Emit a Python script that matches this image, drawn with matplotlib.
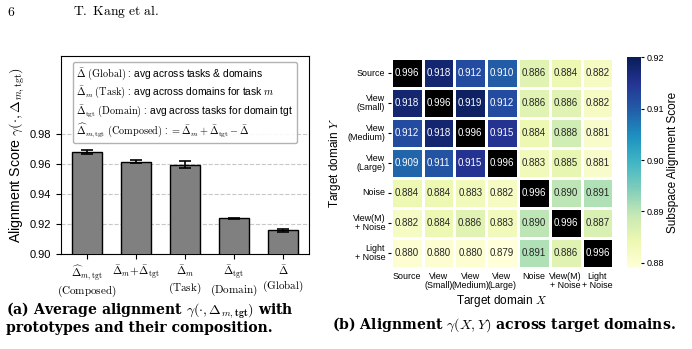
import numpy as np
import matplotlib
matplotlib.use('Agg')
import matplotlib.pyplot as plt
from matplotlib.lines import Line2D

plt.rcParams['font.family'] = ['Liberation Sans', 'DejaVu Sans']
plt.rcParams['mathtext.fontset'] = 'cm'

# --- (a) bar data ---
bar_labels = [r"$\widehat{\Delta}_{m,\mathrm{tgt}}$" + "\n" + r"$\mathrm{(Composed)}$",
              r"$\bar{\Delta}_m\!+\!\bar{\Delta}_{\mathrm{tgt}}$",
              r"$\bar{\Delta}_m$" + "\n" + r"$\mathrm{(Task)}$",
              r"$\bar{\Delta}_{\mathrm{tgt}}$" + "\n" + r"$\mathrm{(Domain)}$",
              r"$\bar{\Delta}$" + "\n" + r"$\mathrm{(Global)}$"]
bar_values = [0.968, 0.9615, 0.9595, 0.9238, 0.9157]
bar_errors = [0.0014, 0.0009, 0.0022, 0.0003, 0.0012]

legend_lines = [
    r"$\bar{\Delta}$ $\mathrm{(Global)}$ : avg across tasks & domains",
    r"$\bar{\Delta}_m$ $\mathrm{(Task)}$ : avg across domains for task $m$",
    r"$\bar{\Delta}_{\mathrm{tgt}}$ $\mathrm{(Domain)}$ : avg across tasks for domain tgt",
    r"$\widehat{\Delta}_{m,\mathrm{tgt}}$ $\mathrm{(Composed)}$ : $=\bar{\Delta}_m+\bar{\Delta}_{\mathrm{tgt}}-\bar{\Delta}$",
]

# --- (b) heatmap data ---
domain_x = ["Source", "View\n(Small)", "View\n(Medium)", "View\n(Large)",
            "Noise", "View(M)\n+ Noise", "Light\n+ Noise"]
domain_y = ["Source", "View\n(Small)", "View\n(Medium)", "View\n(Large)",
            "Noise", "View(M)\n+ Noise", "Light\n+ Noise"]
align = np.array([
    [0.996, 0.918, 0.912, 0.910, 0.886, 0.884, 0.882],
    [0.918, 0.996, 0.919, 0.912, 0.886, 0.886, 0.882],
    [0.912, 0.918, 0.996, 0.915, 0.884, 0.888, 0.881],
    [0.909, 0.911, 0.915, 0.996, 0.883, 0.885, 0.881],
    [0.884, 0.884, 0.883, 0.882, 0.996, 0.890, 0.891],
    [0.882, 0.884, 0.886, 0.883, 0.890, 0.996, 0.887],
    [0.880, 0.880, 0.880, 0.879, 0.891, 0.886, 0.996],
])

W, H = 692, 349
fig = plt.figure(figsize=(W / 100, H / 100), dpi=100)

def box(x0, y0, x1, y1):
    return [x0 / W, 1 - y1 / H, (x1 - x0) / W, (y1 - y0) / H]

# ---------- (a) ----------
ax = fig.add_axes(box(61, 56, 309, 254))
x = np.arange(len(bar_values))
ax.bar(x, bar_values, width=0.6, color='#808080', edgecolor='black', linewidth=1,
       yerr=bar_errors, capsize=4, error_kw=dict(elinewidth=1.2, capthick=1.2, ecolor='black'),
       zorder=3)
ax.set_ylim(0.90, 1.032)
ax.set_yticks([0.90, 0.92, 0.94, 0.96, 0.98])
ax.set_yticklabels(["0.90", "0.92", "0.94", "0.96", "0.98"], fontsize=8)
ax.set_xticks(x)
ax.set_xticklabels(bar_labels, fontsize=8, linespacing=1.1)
ax.yaxis.grid(True, linestyle='--', color='#c8c8c8', linewidth=0.8, zorder=0)
ax.set_axisbelow(True)
ax.set_ylabel(r"Alignment Score $\gamma(\cdot, \Delta_{m,\mathrm{tgt}})$", fontsize=10.2, labelpad=2)
handles = [Line2D([], [], linestyle='none') for _ in legend_lines]
leg = ax.legend(handles, legend_lines, loc='upper center', fontsize=7.4, handlelength=0,
                handletextpad=0, borderpad=0.35, labelspacing=0.25, framealpha=0.9,
                edgecolor='#aaaaaa', fancybox=True, borderaxespad=0.6)

# ---------- (b) ----------
hx = fig.add_axes(box(390.7, 58.3, 613.3, 267.7))
cmap = plt.get_cmap('YlGnBu').copy()
cmap.set_over('black')
vmin, vmax = 0.879, 0.92
n = len(domain_x)
mesh = hx.pcolormesh(np.arange(n + 1), np.arange(n + 1), align, cmap=cmap,
                     vmin=vmin, vmax=vmax, edgecolors='white', linewidth=1)
hx.set_xlim(0, n)
hx.set_ylim(n, 0)
for i in range(n):
    for j in range(n):
        v = align[i, j]
        col = 'white' if v >= 0.905 else '#262626'
        hx.text(j + 0.5, i + 0.5, f"{v:.3f}", ha='center', va='center', fontsize=7, color=col)
hx.set_xticks(np.arange(n) + 0.5)
hx.set_xticklabels(domain_x, fontsize=6.4, linespacing=1.0)
hx.set_yticks(np.arange(n) + 0.5)
hx.set_yticklabels(domain_y, fontsize=6.4, linespacing=1.0, ha='right', va='center')
hx.tick_params(axis='x', length=0, pad=3)
hx.tick_params(axis='y', length=2.5, width=0.8, pad=1.5)
for s in hx.spines.values():
    s.set_visible(False)
hx.set_xlabel(r"Target domain $X$", fontsize=8.5, labelpad=2)
hx.set_ylabel(r"Target domain $Y$", fontsize=8.5, labelpad=3)

cax = fig.add_axes(box(626.7, 57.3, 640.7, 268))
cb = fig.colorbar(mesh, cax=cax)
cb.outline.set_visible(False)
cb.set_ticks([0.88, 0.89, 0.90, 0.91, 0.92])
cb.ax.tick_params(labelsize=6.5, length=2.5, width=0.8, pad=1.5)
cb.set_label("Subspace Alignment Score", fontsize=8.5, labelpad=2)

# ---------- captions / header ----------
fig.text(7 / W, 1 - 12 / H, r"$\mathrm{6}$", fontsize=9.8, va='center', ha='left')
fig.text(73 / W, 1 - 12 / H, r"$\mathrm{T.\ Kang\ et\ al.}$", fontsize=9.8, va='center', ha='left')
cap = dict(fontsize=10.1, va='center', ha='left', family='DejaVu Serif', weight='bold')
fig.text(6 / W, 1 - 311 / H,
         r"(a) Average alignment $\gamma(\cdot,\Delta_{m,\mathbf{tgt}})$ with", **cap)
fig.text(6 / W, 1 - 328 / H, "prototypes and their composition.", **cap)
fig.text(332 / W, 1 - 325 / H, r"(b) Alignment $\gamma(X,Y)$ across target domains.", **cap)

fig.savefig('out.png', dpi=100)
